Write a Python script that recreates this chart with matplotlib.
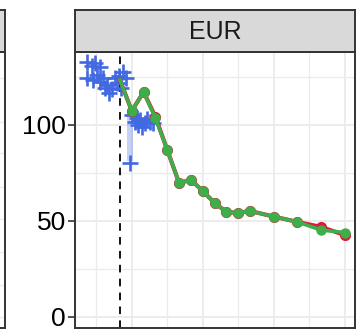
import matplotlib.pyplot as plt
import numpy as np

# observed (blue crosses)
obs_x = [-2.8, -2.4, -2.1, -1.7, -2.8, -2.3, -1.9, -1.7, -1.3, -1.1, -0.7, -1.4, -0.9, -0.4, -0.1,
         0.25, 0.5, -0.25, 0.1,
         1.0, 1.25, 1.5, 1.7, 2.1, 2.3, 2.55, 1.85, 1.45, 2.8, 0.85]
obs_y = [132.8, 130.5, 132.3, 130.2, 124.5, 123.4, 126.0, 122.4, 119.5, 120.8, 118.8, 124.5, 116.5, 124.5, 125.5,
         127.6, 124.5, 121.9, 119.0,
         105.2, 101.6, 100.2, 102.6, 101.0, 103.0, 101.6, 99.0, 103.6, 101.0, 80.2]

# band around the jump
band_x = [0.6, 1.1]
band_lo = [81, 81]
band_hi = [106, 106]

# forecasts
fc_x = [0, 1, 2, 3, 4, 5, 6, 7, 8, 9, 10, 11, 13, 15, 17, 19]
fc_red = [123.4, 107.3, 117.2, 104.2, 87.0, 69.8, 71.4, 65.6, 59.4, 54.7, 54.2, 55.2, 52.3, 49.5, 46.9, 42.7]
fc_green = [123.4, 107.3, 117.2, 103.6, 87.0, 69.8, 71.4, 65.6, 59.4, 54.7, 54.2, 55.2, 52.3, 49.5, 45.3, 44.0]

cutoff = 0

W, H = 358, 332
fig = plt.figure(figsize=(W / 100, H / 100), dpi=100)
plt.rcParams['lines.scale_dashes'] = False

def box(l, t, r, b):
    return [l / W, (H - b) / H, (r - l) / W, (b - t) / H]

edge = '#333333'
grid = '#EBEBEB'
font = ['Liberation Sans', 'DejaVu Sans']

# main panel
ax = fig.add_axes(box(75, 52, 355, 328))
ax.set_xlim(-3.8, 19.87)
ax.set_ylim(-5.73, 138)
ax.set_xticks([1, 7, 13, 19])
ax.set_xticks([-2, 4, 10, 16], minor=True)
ax.set_yticks([0, 50, 100])
ax.set_yticks([25, 75, 125], minor=True)
ax.grid(True, which='major', color=grid, linewidth=1.3)
ax.grid(True, which='minor', color=grid, linewidth=0.9)
ax.set_axisbelow(True)
ax.tick_params(axis='x', which='both', length=0, labelbottom=False)
ax.tick_params(axis='y', which='minor', length=0)
ax.tick_params(axis='y', which='major', length=5, width=1.2, color=edge, labelsize=19, pad=1.5,
               labelcolor='black')
for s in ax.spines.values():
    s.set_color(edge)
    s.set_linewidth(1.4)
    s.set_zorder(10)

ax.fill_between(band_x, band_lo, band_hi, color='#4169E1', alpha=0.3, linewidth=0, zorder=2)
ax.axvline(cutoff, color='black', linewidth=1.3, dashes=(5.5, 4.5), zorder=3)
ax.plot(obs_x, obs_y, linestyle='none', marker='+', markersize=11, markeredgewidth=1.9,
        color='#4169E1', zorder=4)
ax.plot(fc_x, fc_red, color='#E0193C', linewidth=3, marker='o', markersize=7,
        markevery=list(range(1, len(fc_x))), zorder=5)
ax.plot(fc_x, fc_green, color='#3DAE49', linewidth=2.6, marker='o', markersize=6.5,
        markevery=list(range(1, len(fc_x))), zorder=6)

# strip
st = fig.add_axes(box(75, 10, 355, 52))
st.set_facecolor('#D9D9D9')
st.set_xticks([])
st.set_yticks([])
for s in st.spines.values():
    s.set_color(edge)
    s.set_linewidth(1.4)
st.text(0.5, 0.48, 'EUR', ha='center', va='center', fontsize=18, color='#1A1A1A',
        family=font, transform=st.transAxes)

# neighbouring panel (cut off)
lp = fig.add_axes(box(-100, 52, 5, 328))
lp.set_ylim(328, 52)
lp.set_xlim(0, 1)
lp.set_yticks([78, 122, 153, 187, 219, 252, 285, 317])
lp.set_xticks([])
lp.grid(True, axis='y', color=grid, linewidth=1.0)
lp.tick_params(length=0, labelleft=False)
for s in lp.spines.values():
    s.set_color(edge)
    s.set_linewidth(1.4)
ls = fig.add_axes(box(-100, 10, 5, 52))
ls.set_facecolor('#D9D9D9')
ls.set_xticks([])
ls.set_yticks([])
for s in ls.spines.values():
    s.set_color(edge)
    s.set_linewidth(1.4)

for t in ax.get_yticklabels():
    t.set_family(font)

fig.savefig('out.png', dpi=100)
